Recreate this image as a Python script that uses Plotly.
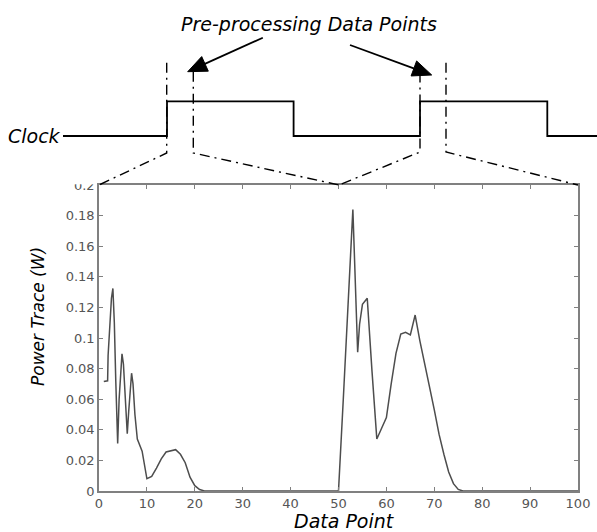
import plotly.graph_objects as go

# ---------------- data ----------------
data_x = [1, 1.8, 1.9, 2.3, 2.6, 2.9, 3.2, 3.5, 3.9, 4.2, 4.5, 4.8, 5.1, 5.5, 5.9, 6.2, 6.5, 6.8, 7.1, 7.5,
          8, 9, 10, 11, 12, 13, 14, 15, 16, 17, 18, 19, 20, 21, 22, 30, 40, 50,
          51, 52, 53, 54, 54.4, 55, 56, 57, 58, 59, 60, 61, 62, 63, 64, 65, 66, 67, 68, 69, 70,
          71, 72, 73, 74, 75, 76, 80, 90, 100]
power_w = [0.0715, 0.0720, 0.0886, 0.1160, 0.1260, 0.1324, 0.1100, 0.0720, 0.0310, 0.0600, 0.0800, 0.0896, 0.0830, 0.0600, 0.0374, 0.0520, 0.0650, 0.0770, 0.0700, 0.0500,
           0.0340, 0.0260, 0.0080, 0.0095, 0.0150, 0.0210, 0.0255, 0.0262, 0.0270, 0.0240, 0.0185, 0.0090, 0.0035, 0.0010, 0.0000, 0.0000, 0.0000, 0.0000,
           0.0600, 0.1200, 0.1840, 0.0907, 0.1090, 0.1220, 0.1260, 0.0780, 0.0340, 0.0410, 0.0480, 0.0700, 0.0900, 0.1026, 0.1037, 0.1020, 0.1150, 0.0980, 0.0820, 0.0680, 0.0530,
           0.0370, 0.0240, 0.0124, 0.0048, 0.0010, 0.0000, 0.0000, 0.0000, 0.0000]

x_ticks = [0, 10, 20, 30, 40, 50, 60, 70, 80, 90, 100]
y_ticks = [0, 0.02, 0.04, 0.06, 0.08, 0.1, 0.12, 0.14, 0.16, 0.18, 0.2]
y_tick_text = ["0", "0.02", "0.04", "0.06", "0.08", "0.1", "0.12", "0.14", "0.16", "0.18", "0.2"]

title_text = "Pre-processing Data Points"
clock_label = "Clock"
x_title = "Data Point"
y_title = "Power Trace (W)"

# ---------------- layout geometry (pixels) ----------------
W, H = 597, 532
L, R, T, B = 99, 19, 185, 41
PW, PH = W - L - R, H - T - B

def P(X, Y):
    return (X - L) / PW, (H - B - Y) / PH

def path_from(points, close=False):
    s = ""
    for i, (X, Y) in enumerate(points):
        px, py = P(X, Y)
        s += ("M" if i == 0 else " L") + f"{px:.5f},{py:.5f}"
    if close:
        s += " Z"
    return s

# clock diagram geometry
clock_low, clock_high = 136, 101.3
clock_edges = [167, 293.6, 420, 547.3]
clock_pts = [(63, clock_low)]
level = clock_low
for e in clock_edges:
    clock_pts.append((e, level))
    level = clock_high if level == clock_low else clock_low
    clock_pts.append((e, level))
clock_pts.append((W, level))

guides = [
    [(166.7, 62.7), (166.7, 153), (99, 185)],
    [(193.3, 71.7), (193.3, 153), (339, 185)],
    [(420, 72.5), (420, 152), (339, 185)],
    [(446, 62.7), (446, 152), (578, 185)],
]

arrows = [((262.8, 37.7), (187.7, 71.7)), ((350, 45), (431.7, 75))]

fig = go.Figure()
fig.add_trace(go.Scatter(x=data_x, y=power_w, mode="lines",
                         line=dict(color="#4d4d4d", width=1.5), hoverinfo="skip", showlegend=False))

shapes = []
shapes.append(dict(type="path", xref="paper", yref="paper", path=path_from(clock_pts),
                   line=dict(color="black", width=1.8)))
for g in guides:
    shapes.append(dict(type="path", xref="paper", yref="paper", path=path_from(g),
                       line=dict(color="black", width=1.4, dash="10px,5px,2px,5px")))

head_len, head_half = 19, 8
for (tx, ty), (hx, hy) in arrows:
    dx, dy = hx - tx, hy - ty
    n = (dx * dx + dy * dy) ** 0.5
    ux, uy = dx / n, dy / n
    bx, by = hx - head_len * ux, hy - head_len * uy
    nx, ny = -uy, ux
    shapes.append(dict(type="path", xref="paper", yref="paper",
                       path=path_from([(tx, ty), (bx + ux * 2, by + uy * 2)]),
                       line=dict(color="black", width=1.8)))
    shapes.append(dict(type="path", xref="paper", yref="paper",
                       path=path_from([(hx, hy), (bx + head_half * nx, by + head_half * ny),
                                       (bx - head_half * nx, by - head_half * ny)], close=True),
                       fillcolor="black", line=dict(color="black", width=1)))

# mask the top half of the clipped "0.2" label like the reference
x0, y0 = P(70, 170)
x1, y1 = P(97, 184.3)
shapes.append(dict(type="rect", xref="paper", yref="paper", x0=x0, y0=y1, x1=x1, y1=y0,
                   fillcolor="white", line=dict(width=0), layer="above"))

def ann(text, X, Y, size, angle=0, xanchor="center"):
    px, py = P(X, Y)
    return dict(text=text, x=px, y=py, xref="paper", yref="paper", showarrow=False,
                xanchor=xanchor, yanchor="middle", textangle=angle,
                font=dict(family="DejaVu Sans", size=size, color="black", style="italic"))

annotations = [
    ann(title_text, 308.5, 24, 19),
    ann(clock_label, 63, 136.5, 19, xanchor="right"),
    ann(x_title, 344.5, 521, 19),
    ann(y_title, 38, 316, 17, angle=-90),
]

axis_common = dict(showline=True, linecolor="#808080", linewidth=1.5, mirror="ticks",
                   ticks="inside", ticklen=4, tickcolor="#808080", tickwidth=1,
                   showgrid=False, zeroline=False, automargin=False,
                   tickfont=dict(family="DejaVu Sans", size=13, color="#555555"))

fig.update_layout(
    width=W, height=H, autosize=False,
    margin=dict(l=L, r=R, t=T, b=B, pad=0, autoexpand=False),
    paper_bgcolor="white", plot_bgcolor="white",
    xaxis=dict(range=[0, 100], tickvals=x_ticks, ticktext=[str(v) for v in x_ticks], **axis_common),
    yaxis=dict(range=[0, 0.2], tickvals=y_ticks, ticktext=y_tick_text, **axis_common),
    shapes=shapes, annotations=annotations, showlegend=False,
)

fig.write_html("out.html",
               config=dict(displayModeBar=False, responsive=False),
               post_script="document.body.style.margin='0';document.body.style.padding='0';"
                           "document.documentElement.style.overflow='hidden';")
